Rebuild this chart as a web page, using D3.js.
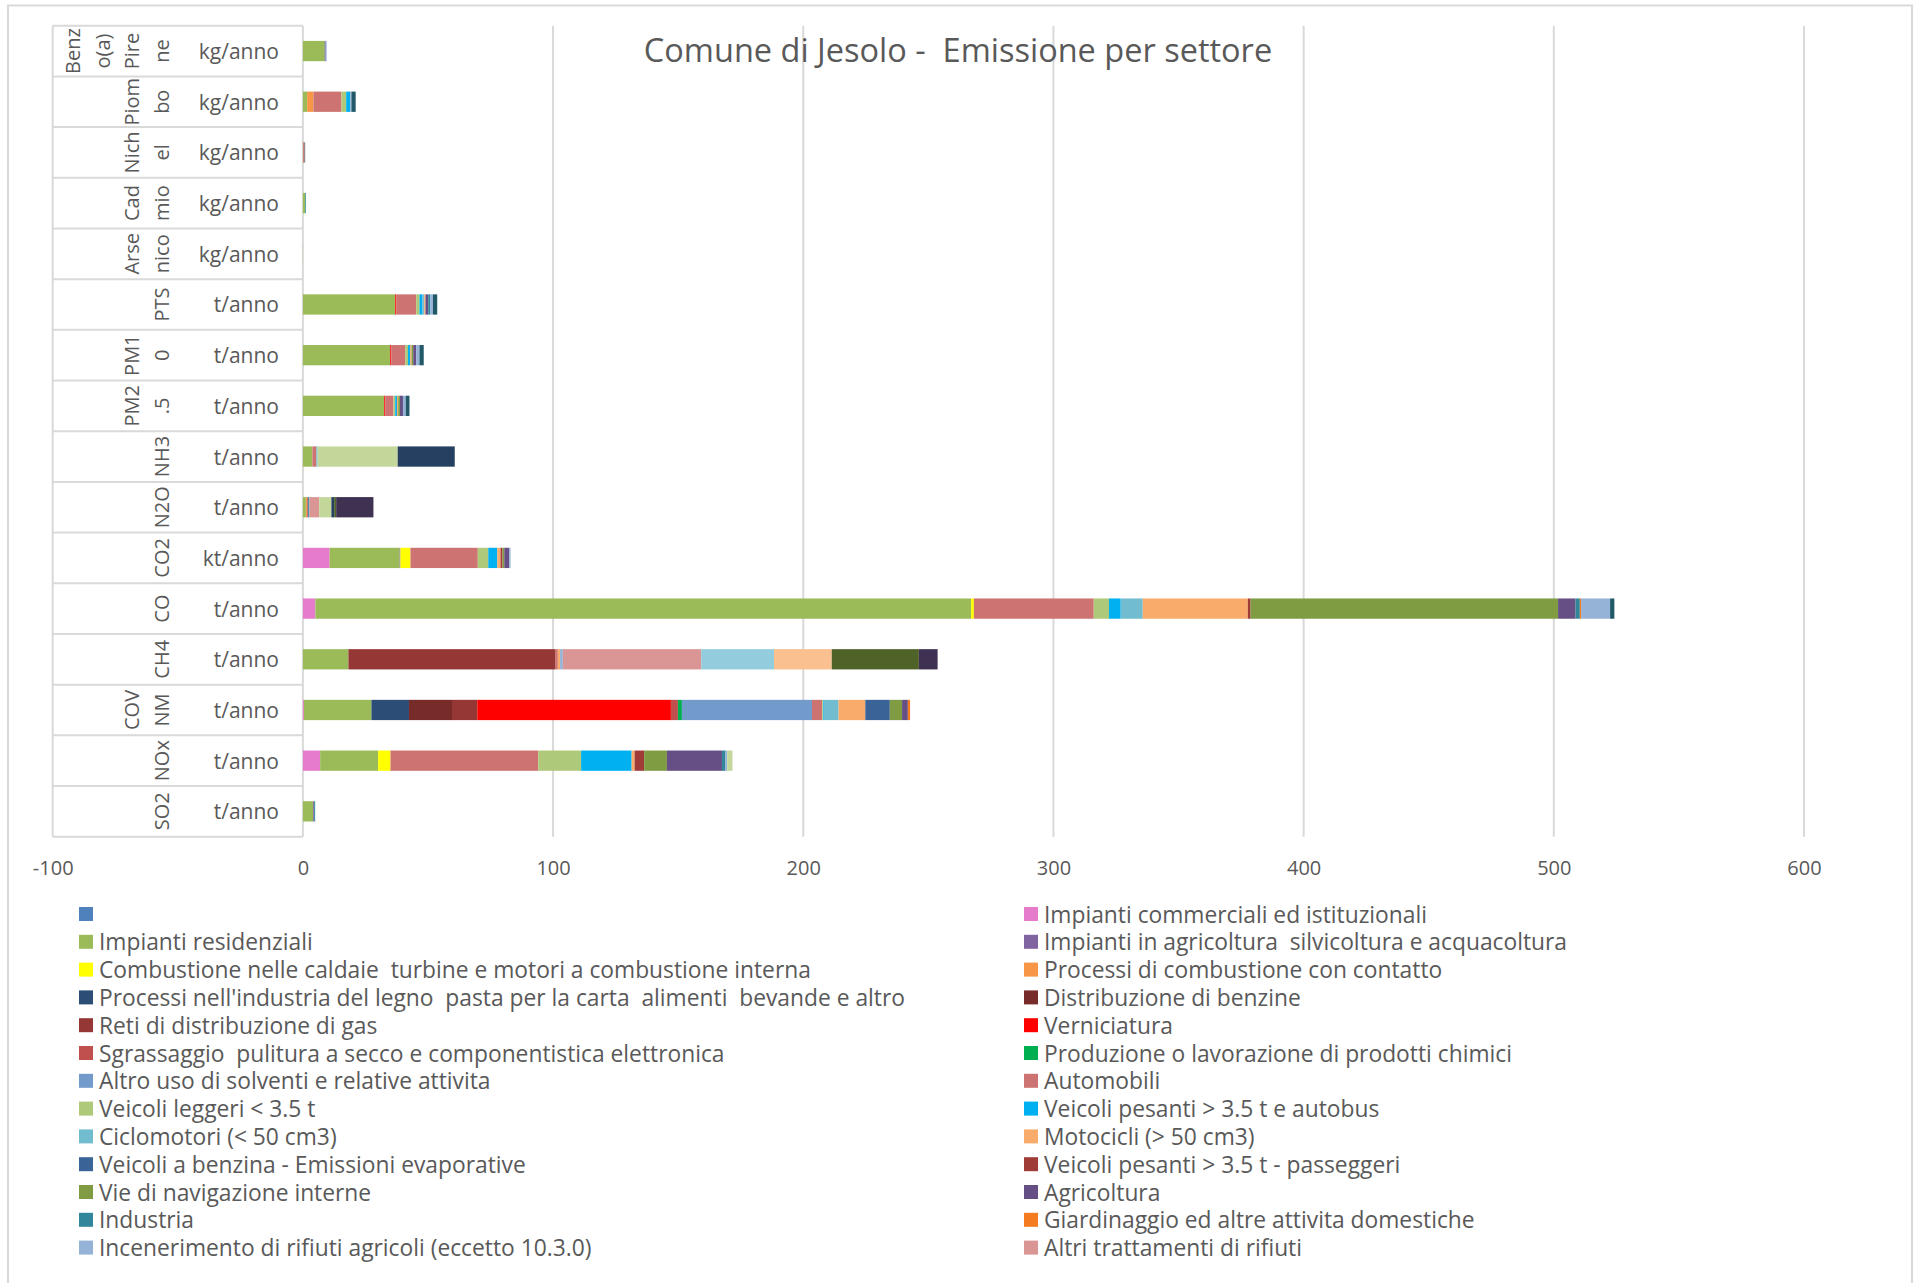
<!DOCTYPE html>
<html>
<head>
<meta charset="utf-8">
<script src="https://cdn.jsdelivr.net/npm/d3@7"></script>
<style>
  html, body { margin: 0; padding: 0; background: #fff; }
  svg text { font-family: "Open Sans", "Noto Sans", sans-serif; white-space: pre; }
</style>
</head>
<body>
<svg id="chart" width="1914" height="1283"></svg>
<script>
// ---------------- DATA ----------------
const title = "Comune di Jesolo -  Emissione per settore";

const categories = ["Benzo(a)Pirene","Piombo","Nichel","Cadmio","Arsenico","PTS","PM10","PM2.5",
                    "NH3","N2O","CO2","CO","CH4","COVNM","NOx","SO2"];
const categoryLines = [["Benz","o(a)","Pire","ne"],["Piom","bo"],["Nich","el"],["Cad","mio"],["Arse","nico"],
                       ["PTS"],["PM1","0"],["PM2",".5"],["NH3"],["N2O"],["CO2"],["CO"],["CH4"],["COV","NM"],["NOx"],["SO2"]];
const units = ["kg/anno","kg/anno","kg/anno","kg/anno","kg/anno","t/anno","t/anno","t/anno",
               "t/anno","t/anno","kt/anno","t/anno","t/anno","t/anno","t/anno","t/anno"];

const seriesNames = [
  "",
  "Impianti commerciali ed istituzionali",
  "Impianti residenziali",
  "Impianti in agricoltura  silvicoltura e acquacoltura",
  "Combustione nelle caldaie  turbine e motori a combustione interna",
  "Processi di combustione con contatto",
  "Processi nell'industria del legno  pasta per la carta  alimenti  bevande e altro",
  "Distribuzione di benzine",
  "Reti di distribuzione di gas",
  "Verniciatura",
  "Sgrassaggio  pulitura a secco e componentistica elettronica",
  "Produzione o lavorazione di prodotti chimici",
  "Altro uso di solventi e relative attivita",
  "Automobili",
  "Veicoli leggeri < 3.5 t",
  "Veicoli pesanti > 3.5 t e autobus",
  "Ciclomotori (< 50 cm3)",
  "Motocicli (> 50 cm3)",
  "Veicoli a benzina - Emissioni evaporative",
  "Veicoli pesanti > 3.5 t - passeggeri",
  "Vie di navigazione interne",
  "Agricoltura",
  "Industria",
  "Giardinaggio ed altre attivita domestiche",
  "Incenerimento di rifiuti agricoli (eccetto 10.3.0)",
  "Altri trattamenti di rifiuti",
  "Altre sorgenti 1","Altre sorgenti 2","Altre sorgenti 3","Altre sorgenti 4",
  "Altre sorgenti 5","Altre sorgenti 6","Altre sorgenti 7"
];
const legendCount = 26; // only the first 26 series appear in the legend

const seriesColors = [
  "#4F81BD","#E77BCB","#9BBB59","#8064A2","#FFFF00","#F79646","#2C4D75","#772C2A","#953735","#FF0000",
  "#C0504D","#00B050","#729ACA","#CD7371","#AFC97A","#00B0F0","#72BCD0","#F9AB6B","#3A6497","#A03C38",
  "#7F9C43","#664F85","#31869B","#F47B20","#95B3D7","#DA9694","#93CDDD","#FAC090","#C4D79B","#254061",
  "#4F6228","#3F3151","#215968"
];

// values per category, one entry per series (same order as seriesNames)
const valBenzoPirene = [0,0,8.7,0,0,0,0,0,0,0, 0,0,0,0,0,0,0,0,0,0, 0,0.4,0,0,0.4,0,0,0,0,0, 0,0,0];
const valPiombo      = [0,0,1.7,0,0,2.5,0,0,0,0, 0,0,0,11.2,1.9,1.6,0,0,0,0, 0,0,0,0,0.5,0,0,0,0,0, 0,0,1.7];
const valNichel      = [0,0,0.1,0,0,0,0,0,0,0, 0,0,0,0.6,0,0,0,0,0,0, 0,0,0,0,0,0,0,0,0,0, 0,0,0.2];
const valCadmio      = [0,0,0.9,0,0,0,0,0,0,0, 0,0,0,0,0,0,0,0,0,0, 0,0,0.3,0,0,0,0,0,0,0, 0,0,0];
const valArsenico    = [0,0,0.05,0,0,0,0,0,0,0, 0,0,0,0,0,0,0,0,0,0, 0,0,0,0,0,0,0,0,0,0, 0,0,0];
const valPTS         = [0,0,36.9,0,0,0,0,0,0,0.4, 0,0,0,8.0,1.3,1.1,0.8,0.5,0,0, 0,1.1,0.8,0,1.1,0,0,0,0,0, 0,0,1.7];
const valPM10        = [0,0,34.9,0,0,0,0,0,0,0.4, 0,0,0,5.6,1.1,0.9,0,0.5,0,0, 0.7,1.2,0,0,1.3,0,0,0,0,0, 0,0,1.7];
const valPM25        = [0,0,32.5,0,0,0,0,0,0,0.4, 0,0,0,3.3,0.7,0.7,0,0.5,0,0, 0.7,1.2,0,0,1.1,0,0,0,0,0, 0,0,1.5];
const valNH3         = [0,0,3.8,0,0,0,0,0,0,0, 0,0,0,1.6,0,0,0.5,0,0,0, 0,0,0,0,0,0,0,0,32.0,22.8, 0,0,0];
const valN2O         = [0,0,1.2,0,0,0.4,0,0,0,0, 0,0,0,0.5,0,0,0,0,0,0, 0,0,0.5,0,0,3.9,0,0,4.9,1.1, 0.8,14.9,0];
const valCO2         = [0,10.7,28.0,0.3,4.0,0,0,0,0,0, 0,0,0,26.9,4.2,3.6,0,1.3,0,0.8, 0.7,2.0,0,0,0.5,0,0,0,0,0, 0,0,0];
const valCO          = [0,5.0,262.1,0,1.1,0,0,0,0,0, 0,0,0,47.9,6.1,4.7,8.8,42.0,0,1.1, 122.9,7.0,1.7,0.5,11.6,0,0,0,0,0, 0,0,1.7];
const valCH4         = [0,0,18.2,0,0,0,0,0,82.8,0, 0,0,0,0.9,0,0,0,0.9,0,0, 0,0,0,0,1.1,55.3,29.1,23.1,0,0, 34.8,7.5,0];
const valCOVNM       = [0,0.4,27.0,0,0,0,15.0,17.2,10.1,77.4, 2.8,1.6,52.0,4.1,0.3,0.3,5.9,10.7,9.8,0, 4.9,2.3,0,0.9,0,0,0,0,0,0, 0,0,0];
const valNOx         = [0,6.9,23.2,0,4.9,0,0,0,0,0, 0,0,0,59.1,17.1,20.2,0,1.2,0,3.8, 9.1,22.0,1.4,0,0.7,0,0,0,2.1,0, 0,0,0];
const valSO2         = [0,0,4.1,0.4,0,0,0,0,0,0, 0,0,0,0,0,0,0,0,0,0, 0,0,0.4,0,0,0,0,0,0,0, 0,0,0];

const categoryValues = [valBenzoPirene,valPiombo,valNichel,valCadmio,valArsenico,valPTS,valPM10,valPM25,
                        valNH3,valN2O,valCO2,valCO,valCH4,valCOVNM,valNOx,valSO2];

const xTicks = [-100,0,100,200,300,400,500,600];

// ---------------- DRAW ----------------
const svg = d3.select("#chart");
const textColor = "#595959";
const gridColor = "#d9d9d9";

svg.append("rect").attr("x",0).attr("y",0).attr("width",1914).attr("height",1283).attr("fill","#fff");
// chart area border
svg.append("rect").attr("x",8).attr("y",5.5).attr("width",1904).attr("height",1320)
   .attr("fill","#fff").attr("stroke",gridColor).attr("stroke-width",2);

const plotTop = 25.7, plotBottom = 836.7;
const x = d3.scaleLinear().domain([-100,600]).range([52.7,1804]);
const yRow = d3.scaleBand().domain(categories).range([plotTop, plotBottom]).padding(0);
const y = d3.scaleBand().domain(categories).range([plotTop, plotBottom]).paddingInner(0.6).paddingOuter(0.3);

// gridlines
svg.append("g").selectAll("line").data(xTicks).join("line")
  .attr("x1", d=>x(d)).attr("x2", d=>x(d))
  .attr("y1", plotTop).attr("y2", plotBottom)
  .attr("stroke", gridColor).attr("stroke-width", 2);

// category separators (multi-level label box)
const seps = categories.map(c => yRow(c)).concat([plotBottom]);
svg.append("g").selectAll("line").data(seps).join("line")
  .attr("x1", x(-100)).attr("x2", x(0))
  .attr("y1", d=>d).attr("y2", d=>d)
  .attr("stroke", gridColor).attr("stroke-width", 2);

// x axis labels
const xAxis = d3.axisBottom(x).tickValues(xTicks).tickSize(0).tickPadding(24).tickFormat(d => String(d));
const gx = svg.append("g").attr("transform", `translate(0,${plotBottom})`).call(xAxis);
gx.select(".domain").remove();
gx.selectAll("text").attr("fill", textColor).style("font-size","20px")
  .style("font-family", '"Open Sans", sans-serif');

// category labels
const catG = svg.append("g");
categories.forEach((c, i) => {
  const cy = yRow(c) + yRow.bandwidth()/2;
  catG.append("text")
    .attr("x", 279).attr("y", cy)
    .attr("text-anchor","end").attr("dominant-baseline","central")
    .attr("fill", textColor).style("font-size","21px")
    .text(units[i]);
  const lines = categoryLines[i];
  const n = lines.length;
  lines.forEach((ln, j) => {
    const cx = 161 - (n - 1 - j) * 29.4;
    catG.append("text")
      .attr("transform", `translate(${cx},${cy}) rotate(-90)`)
      .attr("text-anchor","middle").attr("dominant-baseline","central")
      .attr("fill", textColor).style("font-size","20px")
      .text(ln);
  });
});

// stacked bars
const rows = categories.map((c, i) => ({ key: c, vals: categoryValues[i] }));
const stack = d3.stack().keys(d3.range(seriesNames.length)).value((d, k) => d.vals[k] || 0);
const layers = stack(rows);

svg.append("g").selectAll("g").data(layers).join("g")
  .attr("fill", (d) => seriesColors[d.key])
  .selectAll("rect").data(d => d.filter(s => s[1] - s[0] > 0)).join("rect")
  .attr("x", s => x(s[0]))
  .attr("width", s => Math.max(0, x(s[1]) - x(s[0])))
  .attr("y", s => y(s.data.key))
  .attr("height", y.bandwidth());

// title
svg.append("text")
  .attr("x", 958).attr("y", 61.5)
  .attr("text-anchor","middle")
  .attr("fill", textColor).style("font-size","32.5px")
  .text(title);

// legend
const legendItems = d3.range(legendCount);
const lg = svg.append("g").selectAll("g").data(legendItems).join("g")
  .attr("transform", i => {
    const col = i % 2, row = Math.floor(i / 2);
    return `translate(${col ? 1024 : 79},${914 + row * 27.8})`;
  });
lg.append("rect").attr("x",0).attr("y",-7).attr("width",14).attr("height",14)
  .attr("fill", i => seriesColors[i]);
lg.append("text").attr("x",20).attr("y",0).attr("dominant-baseline","central")
  .attr("fill", textColor).style("font-size","22.8px")
  .text(i => seriesNames[i]);
</script>
</body>
</html>
